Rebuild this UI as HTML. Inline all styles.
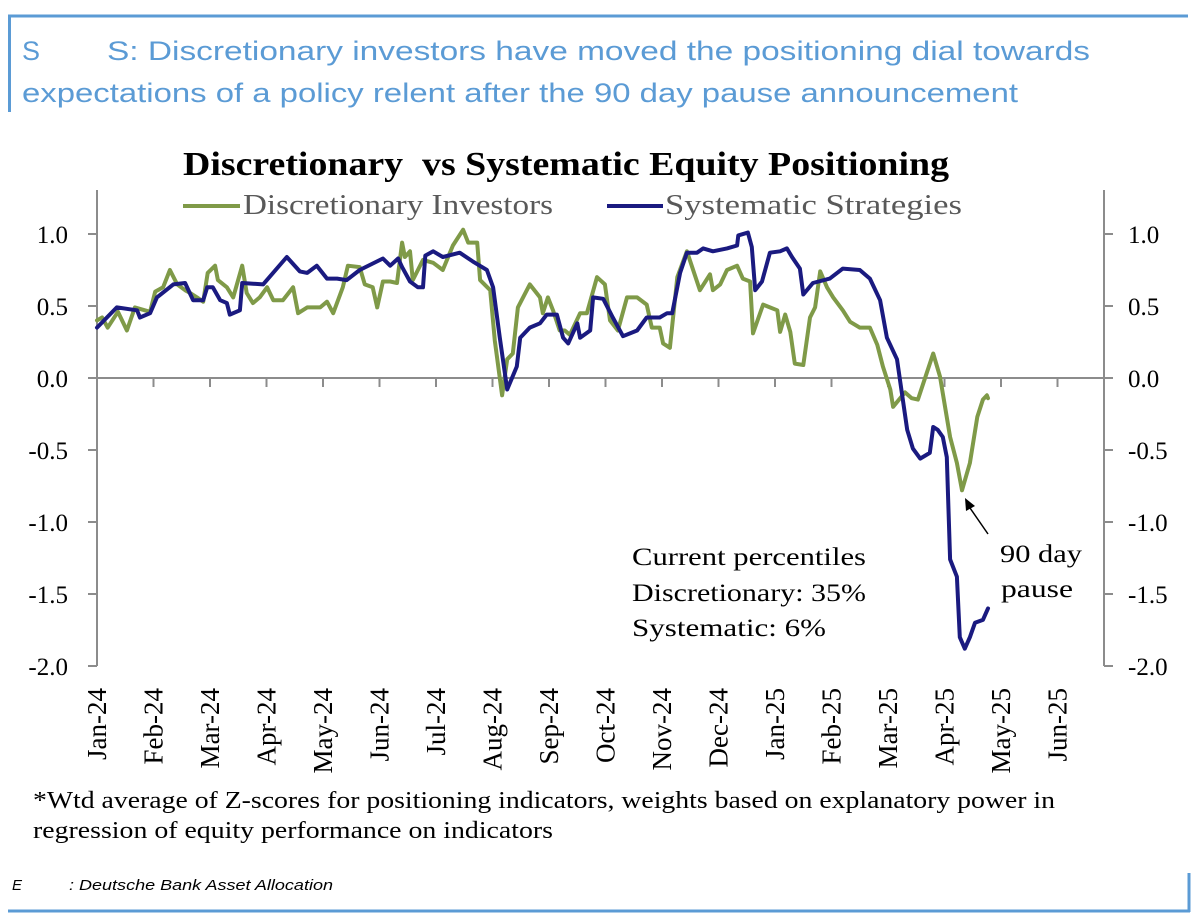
<!DOCTYPE html>
<html><head><meta charset="utf-8"><style>
html,body{margin:0;padding:0;background:#fff;}
svg{display:block;}
</style></head><body>
<svg id="chart" width="1203" height="918" viewBox="0 0 1203 918" xmlns="http://www.w3.org/2000/svg">
<g>
<line x1="8" y1="16" x2="1188" y2="16" stroke="#5b9bd5" stroke-width="3"/>
<line x1="9.5" y1="16" x2="9.5" y2="112" stroke="#5b9bd5" stroke-width="3"/>
</g>
<text x="22" y="60" font-family="Liberation Sans, sans-serif" font-size="27" fill="#5b9bd5">S</text>
<text x="107" y="60" font-family="Liberation Sans, sans-serif" font-size="27" fill="#5b9bd5" textLength="983" lengthAdjust="spacingAndGlyphs">S: Discretionary investors have moved the positioning dial towards</text>
<text x="22" y="102" font-family="Liberation Sans, sans-serif" font-size="27" fill="#5b9bd5" textLength="996" lengthAdjust="spacingAndGlyphs">expectations of a policy relent after the 90 day pause announcement</text>
<text x="183" y="175" font-family="Liberation Serif, serif" font-size="34" font-weight="bold" fill="#000" textLength="766" lengthAdjust="spacingAndGlyphs">Discretionary&#160; vs Systematic Equity Positioning</text>
<g>
<line x1="183" y1="206" x2="240" y2="206" stroke="#7f9a48" stroke-width="4"/>
<text x="243" y="214" font-family="Liberation Serif, serif" font-size="28" fill="#595959" textLength="310" lengthAdjust="spacingAndGlyphs">Discretionary Investors</text>
<line x1="607" y1="206" x2="663" y2="206" stroke="#1a1a80" stroke-width="4"/>
<text x="665" y="214" font-family="Liberation Serif, serif" font-size="28" fill="#595959" textLength="297" lengthAdjust="spacingAndGlyphs">Systematic Strategies</text>
</g>
<g id="axes"></g>
<g id="series"></g>
<g font-family="Liberation Serif, serif" font-size="25" fill="#000">
<text x="632" y="565" textLength="234" lengthAdjust="spacingAndGlyphs">Current percentiles</text>
<text x="632" y="601" textLength="234" lengthAdjust="spacingAndGlyphs">Discretionary: 35%</text>
<text x="632" y="636" textLength="194" lengthAdjust="spacingAndGlyphs">Systematic: 6%</text>
</g>
<g>
<line x1="988" y1="534" x2="970" y2="508" stroke="#000" stroke-width="1.5"/>
<polygon points="965,498 975,506 966,511" fill="#000"/>
<text x="1000" y="562" font-family="Liberation Serif, serif" font-size="25" fill="#000" textLength="82" lengthAdjust="spacingAndGlyphs">90 day</text>
<text x="1001" y="597" font-family="Liberation Serif, serif" font-size="25" fill="#000" textLength="72" lengthAdjust="spacingAndGlyphs">pause</text>
</g>
<text x="33" y="808" font-family="Liberation Serif, serif" font-size="24" fill="#000" textLength="1022" lengthAdjust="spacingAndGlyphs">*Wtd average of Z-scores for positioning indicators, weights based on explanatory power in</text>
<text x="33" y="838" font-family="Liberation Serif, serif" font-size="24" fill="#000" textLength="520" lengthAdjust="spacingAndGlyphs">regression of equity performance on indicators</text>
<text x="12" y="890" font-family="Liberation Sans, sans-serif" font-size="15" font-style="italic" fill="#000">E</text>
<text x="69" y="890" font-family="Liberation Sans, sans-serif" font-size="15" font-style="italic" fill="#000" textLength="264" lengthAdjust="spacingAndGlyphs">: Deutsche Bank Asset Allocation</text>
<g>
<line x1="8" y1="911" x2="1190" y2="911" stroke="#5b9bd5" stroke-width="3"/>
<line x1="1189" y1="873" x2="1189" y2="912" stroke="#5b9bd5" stroke-width="3"/>
</g>
</svg>
<script>
const monthLabels = ["Jan-24","Feb-24","Mar-24","Apr-24","May-24","Jun-24","Jul-24","Aug-24","Sep-24","Oct-24","Nov-24","Dec-24","Jan-25","Feb-25","Mar-25","Apr-25","May-25","Jun-25"];
const yTicks = [1.0,0.5,0.0,-0.5,-1.0,-1.5,-2.0];
const yTickLabels = ["1.0","0.5","0.0","-0.5","-1.0","-1.5","-2.0"];
// x = month index since Jan-24 (fractional)
const sysMonths = [0.00,0.35,0.71,0.76,0.94,1.06,1.35,1.56,1.70,1.88,1.95,2.05,2.18,2.30,2.35,2.53,2.57,2.94,3.36,3.59,3.72,3.89,4.07,4.25,4.42,4.65,5.06,5.19,5.33,5.40,5.54,5.68,5.77,5.81,5.95,6.12,6.42,6.65,6.90,7.01,7.13,7.26,7.43,7.49,7.66,7.84,7.96,8.14,8.25,8.34,8.50,8.55,8.73,8.78,8.96,9.13,9.31,9.56,9.73,9.96,10.09,10.18,10.32,10.44,10.62,10.73,10.90,11.15,11.33,11.35,11.52,11.59,11.65,11.77,11.91,12.09,12.21,12.30,12.44,12.50,12.67,12.97,13.20,13.50,13.68,13.86,13.98,14.16,14.21,14.34,14.44,14.57,14.74,14.80,14.88,14.97,15.04,15.10,15.22,15.27,15.36,15.45,15.54,15.68,15.77];
const sysValues = [0.35,0.49,0.47,0.42,0.45,0.56,0.65,0.66,0.54,0.54,0.63,0.63,0.54,0.52,0.44,0.47,0.66,0.65,0.84,0.74,0.73,0.78,0.69,0.69,0.68,0.75,0.83,0.78,0.83,0.77,0.67,0.63,0.63,0.85,0.88,0.84,0.87,0.81,0.75,0.63,0.28,-0.08,0.08,0.28,0.35,0.38,0.44,0.44,0.28,0.24,0.38,0.28,0.33,0.56,0.55,0.42,0.29,0.33,0.42,0.42,0.45,0.45,0.73,0.87,0.87,0.90,0.88,0.90,0.92,0.99,1.01,0.91,0.61,0.67,0.87,0.88,0.90,0.84,0.76,0.58,0.66,0.69,0.76,0.75,0.69,0.54,0.28,0.13,-0.01,-0.36,-0.49,-0.56,-0.52,-0.34,-0.36,-0.41,-0.55,-1.26,-1.38,-1.80,-1.88,-1.80,-1.70,-1.68,-1.60];
const discMonths = [0.00,0.09,0.19,0.37,0.53,0.67,0.94,1.03,1.17,1.29,1.42,1.56,1.65,1.77,1.88,1.96,2.09,2.14,2.30,2.41,2.57,2.65,2.76,2.88,3.01,3.12,3.29,3.47,3.56,3.72,3.95,4.07,4.18,4.35,4.44,4.65,4.74,4.88,4.96,5.06,5.19,5.31,5.40,5.45,5.54,5.59,5.77,5.95,6.12,6.30,6.48,6.57,6.73,6.78,6.96,7.04,7.17,7.26,7.36,7.45,7.66,7.84,7.89,7.98,8.07,8.19,8.28,8.37,8.55,8.67,8.85,8.99,9.08,9.22,9.38,9.56,9.73,9.82,9.96,10.02,10.14,10.27,10.44,10.67,10.85,10.90,11.03,11.15,11.33,11.43,11.56,11.61,11.79,11.91,12.04,12.09,12.18,12.27,12.35,12.50,12.62,12.71,12.80,12.92,13.03,13.20,13.33,13.50,13.68,13.81,13.91,14.04,14.09,14.30,14.42,14.53,14.80,14.92,15.10,15.22,15.31,15.45,15.58,15.68,15.75,15.77];
const discValues = [0.40,0.42,0.35,0.46,0.33,0.49,0.46,0.60,0.63,0.75,0.65,0.61,0.59,0.56,0.53,0.73,0.78,0.68,0.63,0.56,0.78,0.59,0.52,0.56,0.63,0.54,0.54,0.63,0.45,0.49,0.49,0.53,0.45,0.63,0.78,0.77,0.65,0.63,0.49,0.67,0.67,0.66,0.94,0.84,0.88,0.68,0.82,0.80,0.75,0.92,1.03,0.94,0.94,0.68,0.61,0.26,-0.12,0.13,0.17,0.49,0.65,0.56,0.45,0.56,0.47,0.33,0.33,0.30,0.45,0.45,0.70,0.65,0.40,0.33,0.56,0.56,0.51,0.35,0.35,0.24,0.21,0.70,0.88,0.61,0.72,0.61,0.65,0.75,0.78,0.69,0.67,0.31,0.51,0.49,0.47,0.32,0.44,0.32,0.10,0.09,0.42,0.49,0.74,0.63,0.56,0.47,0.39,0.35,0.35,0.23,0.08,-0.08,-0.20,-0.10,-0.14,-0.15,0.17,0.01,-0.41,-0.59,-0.78,-0.59,-0.27,-0.15,-0.12,-0.14];

const NS = "http://www.w3.org/2000/svg";
const X0 = 97, MW = 56.5, Y0 = 378, YU = 144;
function xScale(m){ return X0 + m*MW; }
function yScale(v){ return Y0 - v*YU; }
function mk(tag, attrs, parent){
  const el = document.createElementNS(NS, tag);
  for (const k in attrs) el.setAttribute(k, attrs[k]);
  parent.appendChild(el);
  return el;
}
const axes = document.getElementById('axes');
const series = document.getElementById('series');
const gray = "#8c8c8c";
const la = mk('line',{x1:X0,y1:190,x2:X0,y2:yScale(-2),stroke:gray,'stroke-width':2},axes);


const ra = mk('line',{x1:1104,y1:190,x2:1104,y2:yScale(-2),stroke:gray,'stroke-width':2},axes);


yTicks.forEach((v,i)=>{
  const y = yScale(v);
  const t1 = mk('line',{x1:X0-9,y1:y,x2:X0,y2:y,stroke:gray,'stroke-width':2},axes);
  
  
  const t2 = mk('line',{x1:1104,y1:y,x2:1113,y2:y,stroke:gray,'stroke-width':2},axes);
  
  
  const l1 = mk('text',{x:68,y:y+9,'text-anchor':'end','font-family':'Liberation Serif, serif','font-size':25,fill:'#000'},axes);
  l1.textContent = yTickLabels[i];
  
  
  const l2 = mk('text',{x:1128,y:y+9,'font-family':'Liberation Serif, serif','font-size':25,fill:'#000'},axes);
  l2.textContent = yTickLabels[i];
  
  
});
const zl = mk('line',{x1:X0,y1:Y0,x2:1113,y2:Y0,stroke:gray,'stroke-width':2},axes);


monthLabels.forEach((lab,i)=>{
  const x = xScale(i);
  if (i>0){
    const t = mk('line',{x1:x,y1:Y0,x2:x,y2:Y0+9,stroke:gray,'stroke-width':2},axes);
    
    
  }
  const tx = mk('text',{x:0,y:0,'text-anchor':'end','font-family':'Liberation Serif, serif','font-size':27,fill:'#000',transform:`translate(${x+9},688) rotate(-90)`},axes);
  tx.textContent = lab;
  
  
});
function drawLine(ms, vs, color, name){
  const d = ms.map((m,i)=>(i?'L':'M')+xScale(m).toFixed(1)+','+yScale(vs[i]).toFixed(1)).join(' ');
  const p = mk('path',{d:d,fill:'none',stroke:color,'stroke-width':4,'stroke-linejoin':'round','stroke-linecap':'round'},series);
  
  
}
drawLine(discMonths, discValues, '#7f9a48', 'discretionary-investors-line');
drawLine(sysMonths, sysValues, '#1a1a80', 'systematic-strategies-line');
</script>
</body></html>
